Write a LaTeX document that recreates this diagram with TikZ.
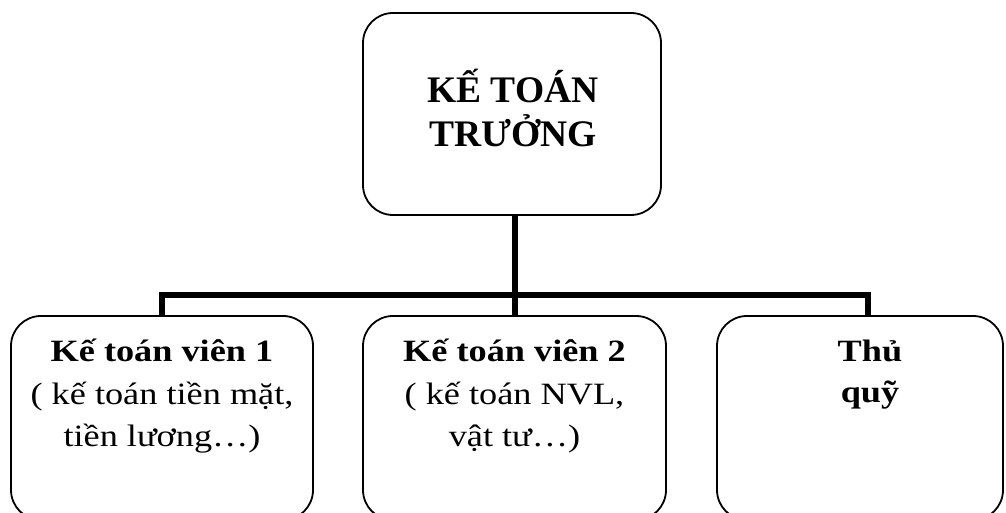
\documentclass[tikz,border=0pt]{standalone}
\usepackage{fontspec}
\setmainfont{Liberation Serif}
\begin{document}
\begin{tikzpicture}[x=1pt,y=1pt,
  box/.style={draw=black, line width=1.8pt, rounded corners=30pt, inner sep=0pt},
  conn/.style={draw=black, line width=5.5pt},
  bigtxt/.style={font=\fontsize{37.5}{44.5}\selectfont\bfseries, align=center, inner sep=0pt, anchor=base},
  smalltxt/.style={font=\fontsize{31}{42.5}\selectfont, align=center, inner sep=0pt, anchor=base, xscale=1.17, transform shape}]
\useasboundingbox (0,0) rectangle (1006,513);
\begin{scope}
\clip (0,0) rectangle (1006,513);
% top box: x 363-661, y_img 13-215
\node[box, minimum width=298pt, minimum height=202pt] (top) at (512,399) {};
\node[bigtxt] (toptxt) at (513,366) {KẾ TOÁN\\TRƯỞNG};
% bottom boxes: y_img 316-520
\node[box, minimum width=302pt, minimum height=204pt] (b1) at (162,95) {};
\node[box, minimum width=303pt, minimum height=204pt] (b2) at (514.5,95) {};
\node[box, minimum width=286pt, minimum height=204pt] (b3) at (860,95) {};
\node[smalltxt] (t1) at (162,66) {\textbf{Kế toán viên 1}\\( kế toán tiền mặt,\\tiền lương…)};
\node[smalltxt] (t2) at (514.5,66) {\textbf{Kế toán viên 2}\\( kế toán NVL,\\vật tư…)};
\node[smalltxt, font=\fontsize{31}{41}\selectfont\bfseries] (t3) at (870,110) {Thủ\\quỹ};
% connectors
\coordinate (hub) at (515,218);
\coordinate (l1) at (162,218);
\coordinate (l3) at (868,218);
\draw[conn] (top.south -| hub) -- (hub);
\draw[conn, line cap=rect] (l1) -- (l3);
\draw[conn] (l1) -- (b1.north -| l1);
\draw[conn] (hub) -- (b2.north -| hub);
\draw[conn] (l3) -- (b3.north -| l3);
\end{scope}
\end{tikzpicture}
\end{document}
